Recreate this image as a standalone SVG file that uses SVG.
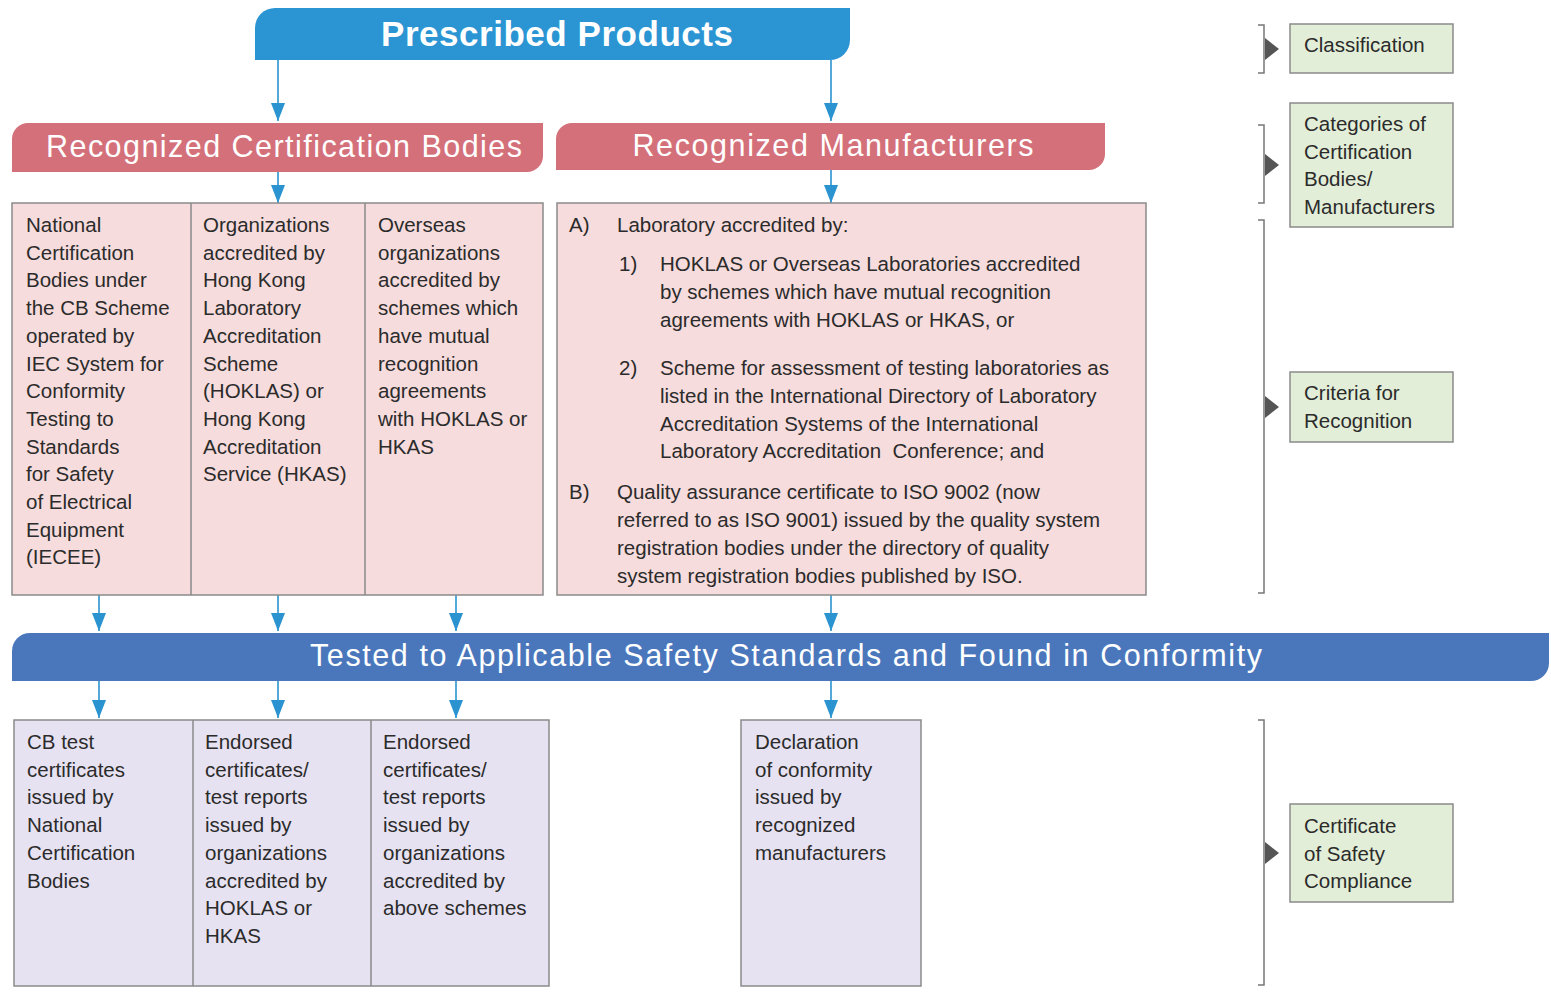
<svg xmlns="http://www.w3.org/2000/svg" width="1551" height="993" viewBox="0 0 1551 993">
<defs>
<style>
.t{font-family:"Liberation Sans",Arial,sans-serif;font-size:20.5px;fill:#2b2b2b}
.hd{font-family:"Liberation Sans",Arial,sans-serif;fill:#ffffff}
.pink{fill:#f6dcdc;stroke:#8a8a8a;stroke-width:1.5}
.lav{fill:#e7e2f1;stroke:#8a8a8a;stroke-width:1.5}
.grn{fill:#e3eed8;stroke:#8a8a8a;stroke-width:1.5}
.div{stroke:#8a8a8a;stroke-width:1.5}
.arr{stroke:#2a93d0;stroke-width:1.6;fill:none;marker-end:url(#ah)}
.br{stroke:#777;stroke-width:1.5;fill:none}
.tri{fill:#555}
</style>
<marker id="ah" markerUnits="userSpaceOnUse" markerWidth="18" markerHeight="14" viewBox="0 0 18 14" refX="18" refY="7" orient="auto">
<path d="M0,0 L18,7 L0,14 Z" fill="#2a93d0"/>
</marker>
</defs>
<rect width="1551" height="993" fill="#ffffff"/>

<g id="connectors">
<line class="arr" x1="278" y1="60" x2="278" y2="121"/>
<line class="arr" x1="831" y1="60" x2="831" y2="121"/>
<line class="arr" x1="278" y1="172" x2="278" y2="203"/>
<line class="arr" x1="831" y1="170" x2="831" y2="203"/>
<line class="arr" x1="99" y1="595" x2="99" y2="631"/>
<line class="arr" x1="278" y1="595" x2="278" y2="631"/>
<line class="arr" x1="456" y1="595" x2="456" y2="631"/>
<line class="arr" x1="831" y1="595" x2="831" y2="631"/>
<line class="arr" x1="99" y1="681" x2="99" y2="718"/>
<line class="arr" x1="278" y1="681" x2="278" y2="718"/>
<line class="arr" x1="456" y1="681" x2="456" y2="718"/>
<line class="arr" x1="831" y1="681" x2="831" y2="718"/>
</g>

<g id="prescribed-products">
<path d="M255,60 V28 A20,20 0 0 1 275,8 H850 V40 A20,20 0 0 1 830,60 Z" fill="#2b95d3"/>
<text class="hd" x="557" y="46" text-anchor="middle" font-size="35" font-weight="bold" textLength="352" lengthAdjust="spacing">Prescribed Products</text>
</g>

<g id="recognized-certification-bodies">
<path d="M12,172 V139 A16,16 0 0 1 28,123 H543 V156 A16,16 0 0 1 527,172 Z" fill="#d4707a"/>
<text class="hd" x="284" y="157" text-anchor="middle" font-size="30.5" textLength="476" lengthAdjust="spacing">Recognized Certification Bodies</text>
</g>

<g id="recognized-manufacturers">
<path d="M556,170 V139 A16,16 0 0 1 572,123 H1105 V154 A16,16 0 0 1 1089,170 Z" fill="#d4707a"/>
<text class="hd" x="833" y="156" text-anchor="middle" font-size="30.5" textLength="401" lengthAdjust="spacing">Recognized Manufacturers</text>
</g>

<g id="cb-categories">
<rect class="pink" x="12" y="203" width="531" height="392"/>
<line class="div" x1="191" y1="203" x2="191" y2="595"/>
<line class="div" x1="365" y1="203" x2="365" y2="595"/>
<text class="t" x="26" y="232"><tspan x="26">National</tspan><tspan x="26" dy="27.7">Certification</tspan><tspan x="26" dy="27.7">Bodies under</tspan><tspan x="26" dy="27.7">the CB Scheme</tspan><tspan x="26" dy="27.7">operated by</tspan><tspan x="26" dy="27.7">IEC System for</tspan><tspan x="26" dy="27.7">Conformity</tspan><tspan x="26" dy="27.7">Testing to</tspan><tspan x="26" dy="27.7">Standards</tspan><tspan x="26" dy="27.7">for Safety</tspan><tspan x="26" dy="27.7">of Electrical</tspan><tspan x="26" dy="27.7">Equipment</tspan><tspan x="26" dy="27.7">(IECEE)</tspan></text>
<text class="t" x="203" y="232"><tspan x="203">Organizations</tspan><tspan x="203" dy="27.7">accredited by</tspan><tspan x="203" dy="27.7">Hong Kong</tspan><tspan x="203" dy="27.7">Laboratory</tspan><tspan x="203" dy="27.7">Accreditation</tspan><tspan x="203" dy="27.7">Scheme</tspan><tspan x="203" dy="27.7">(HOKLAS) or</tspan><tspan x="203" dy="27.7">Hong Kong</tspan><tspan x="203" dy="27.7">Accreditation</tspan><tspan x="203" dy="27.7">Service (HKAS)</tspan></text>
<text class="t" x="378" y="232"><tspan x="378">Overseas</tspan><tspan x="378" dy="27.7">organizations</tspan><tspan x="378" dy="27.7">accredited by</tspan><tspan x="378" dy="27.7">schemes which</tspan><tspan x="378" dy="27.7">have mutual</tspan><tspan x="378" dy="27.7">recognition</tspan><tspan x="378" dy="27.7">agreements</tspan><tspan x="378" dy="27.7">with HOKLAS or</tspan><tspan x="378" dy="27.7">HKAS</tspan></text>
</g>

<g id="manufacturer-criteria">
<rect class="pink" x="557" y="203" width="589" height="392"/>
<text class="t" x="569" y="232">A)</text>
<text class="t" x="617" y="232">Laboratory accredited by:</text>
<text class="t" x="619" y="271">1)</text>
<text class="t" x="660" y="271"><tspan x="660">HOKLAS or Overseas Laboratories accredited</tspan><tspan x="660" dy="28">by schemes which have mutual recognition</tspan><tspan x="660" dy="28">agreements with HOKLAS or HKAS, or</tspan></text>
<text class="t" x="619" y="375">2)</text>
<text class="t" x="660" y="375"><tspan x="660">Scheme for assessment of testing laboratories as</tspan><tspan x="660" dy="28">listed in the International Directory of Laboratory</tspan><tspan x="660" dy="27.5">Accreditation Systems of the International</tspan><tspan x="660" dy="27.5">Laboratory Accreditation&#160; Conference; and</tspan></text>
<text class="t" x="569" y="499">B)</text>
<text class="t" x="617" y="499"><tspan x="617">Quality assurance certificate to ISO 9002 (now</tspan><tspan x="617" dy="28">referred to as ISO 9001) issued by the quality system</tspan><tspan x="617" dy="28">registration bodies under the directory of quality</tspan><tspan x="617" dy="27.5">system registration bodies published by ISO.</tspan></text>
</g>

<g id="tested-conformity">
<path d="M12,681 V651 A18,18 0 0 1 30,633 H1549 V663 A18,18 0 0 1 1531,681 Z" fill="#4a77bc"/>
<text class="hd" x="786" y="666" text-anchor="middle" font-size="30.5" textLength="952" lengthAdjust="spacing">Tested to Applicable Safety Standards and Found in Conformity</text>
</g>

<g id="certificates">
<rect class="lav" x="14" y="720" width="535" height="266"/>
<line class="div" x1="193" y1="720" x2="193" y2="986"/>
<line class="div" x1="371" y1="720" x2="371" y2="986"/>
<text class="t" x="27" y="749"><tspan x="27">CB test</tspan><tspan x="27" dy="27.7">certificates</tspan><tspan x="27" dy="27.7">issued by</tspan><tspan x="27" dy="27.7">National</tspan><tspan x="27" dy="27.7">Certification</tspan><tspan x="27" dy="27.7">Bodies</tspan></text>
<text class="t" x="205" y="749"><tspan x="205">Endorsed</tspan><tspan x="205" dy="27.7">certificates/</tspan><tspan x="205" dy="27.7">test reports</tspan><tspan x="205" dy="27.7">issued by</tspan><tspan x="205" dy="27.7">organizations</tspan><tspan x="205" dy="27.7">accredited by</tspan><tspan x="205" dy="27.7">HOKLAS or</tspan><tspan x="205" dy="27.7">HKAS</tspan></text>
<text class="t" x="383" y="749"><tspan x="383">Endorsed</tspan><tspan x="383" dy="27.7">certificates/</tspan><tspan x="383" dy="27.7">test reports</tspan><tspan x="383" dy="27.7">issued by</tspan><tspan x="383" dy="27.7">organizations</tspan><tspan x="383" dy="27.7">accredited by</tspan><tspan x="383" dy="27.7">above schemes</tspan></text>
</g>

<g id="declaration">
<rect class="lav" x="741" y="720" width="180" height="266"/>
<text class="t" x="755" y="749"><tspan x="755">Declaration</tspan><tspan x="755" dy="27.7">of conformity</tspan><tspan x="755" dy="27.7">issued by</tspan><tspan x="755" dy="27.7">recognized</tspan><tspan x="755" dy="27.7">manufacturers</tspan></text>
</g>

<g id="legend-classification">
<path class="br" d="M1258,25 H1264 V73 H1258"/>
<polygon class="tri" points="1265,38 1279,49 1265,60"/>
<rect class="grn" x="1290" y="24" width="163" height="49"/>
<text class="t" x="1304" y="52">Classification</text>
</g>

<g id="legend-categories">
<path class="br" d="M1258,125 H1264 V203 H1258"/>
<polygon class="tri" points="1265,154 1279,165 1265,176"/>
<rect class="grn" x="1290" y="103" width="163" height="124"/>
<text class="t" x="1304" y="131"><tspan x="1304">Categories of</tspan><tspan x="1304" dy="27.7">Certification</tspan><tspan x="1304" dy="27.7">Bodies/</tspan><tspan x="1304" dy="27.7">Manufacturers</tspan></text>
</g>

<g id="legend-criteria">
<path class="br" d="M1258,220 H1264 V593 H1258"/>
<polygon class="tri" points="1265,396 1279,407 1265,418"/>
<rect class="grn" x="1290" y="372" width="163" height="70"/>
<text class="t" x="1304" y="400"><tspan x="1304">Criteria for</tspan><tspan x="1304" dy="27.7">Recognition</tspan></text>
</g>

<g id="legend-certificate">
<path class="br" d="M1258,720 H1264 V985 H1258"/>
<polygon class="tri" points="1265,842 1279,853 1265,864"/>
<rect class="grn" x="1290" y="804" width="163" height="98"/>
<text class="t" x="1304" y="833"><tspan x="1304">Certificate</tspan><tspan x="1304" dy="27.7">of Safety</tspan><tspan x="1304" dy="27.7">Compliance</tspan></text>
</g>
</svg>
